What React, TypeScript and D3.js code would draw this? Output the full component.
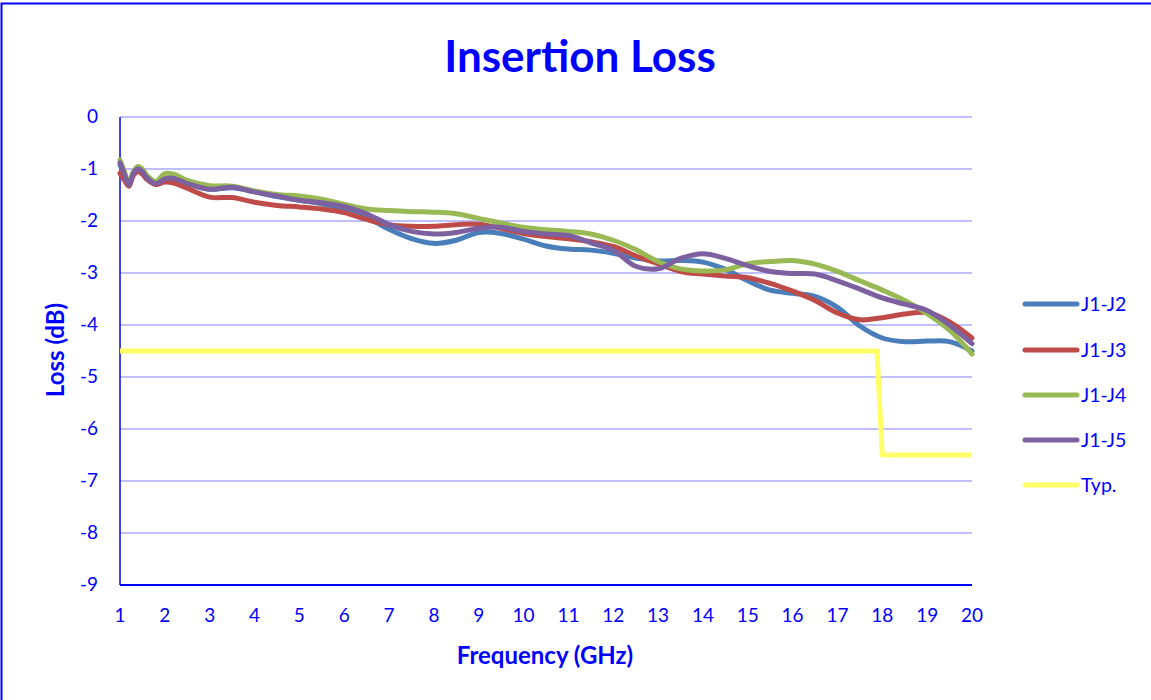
import React from 'react';
import * as d3 from 'd3';

// frequency grid (GHz) shared by all measured traces
const freqs = [
  1, 1.1, 1.2, 1.3, 1.4, 1.5, 1.6, 1.8, 2, 2.2, 2.5, 3, 3.5, 4, 4.5, 5, 5.5, 6, 6.5, 7,
  7.5, 8, 8.5, 9, 9.5, 10, 10.5, 11, 11.5, 12, 12.5, 13, 13.5, 14, 14.5, 15, 15.5, 16,
  16.5, 17, 17.5, 18, 18.5, 19, 19.5, 20,
];

const j1j2 = [
  -0.92, -1.12, -1.31, -1.1, -1.01, -1.06, -1.18, -1.29, -1.2, -1.19, -1.28, -1.39, -1.36,
  -1.44, -1.53, -1.6, -1.67, -1.77, -1.93, -2.16, -2.34, -2.43, -2.37, -2.22, -2.24, -2.35,
  -2.48, -2.54, -2.56, -2.62, -2.71, -2.77, -2.76, -2.79, -2.93, -3.15, -3.33, -3.39, -3.45,
  -3.66, -4.02, -4.25, -4.32, -4.31, -4.32, -4.5,
];

const j1j3 = [
  -1.08, -1.22, -1.33, -1.12, -1.05, -1.1, -1.2, -1.3, -1.25, -1.27, -1.37, -1.54, -1.55,
  -1.64, -1.7, -1.73, -1.77, -1.84, -1.97, -2.07, -2.1, -2.1, -2.07, -2.06, -2.14, -2.24,
  -2.3, -2.34, -2.4, -2.49, -2.67, -2.82, -2.97, -3.02, -3.06, -3.09, -3.2, -3.35, -3.53,
  -3.77, -3.9, -3.86, -3.79, -3.76, -3.94, -4.25,
];

const j1j4 = [
  -0.83, -1.05, -1.28, -1.05, -0.95, -1.0, -1.12, -1.24, -1.09, -1.1, -1.22, -1.32, -1.33,
  -1.42, -1.49, -1.52, -1.58, -1.68, -1.77, -1.8, -1.82, -1.83, -1.86, -1.95, -2.04, -2.12,
  -2.17, -2.2, -2.25, -2.37, -2.55, -2.78, -2.92, -2.96, -2.94, -2.82, -2.78, -2.76, -2.83,
  -2.97, -3.15, -3.33, -3.53, -3.78, -4.1, -4.56,
];

const j1j5 = [
  -0.88, -1.1, -1.3, -1.08, -1.0, -1.05, -1.17, -1.28, -1.19, -1.18, -1.28, -1.39, -1.35,
  -1.44, -1.52, -1.6, -1.65, -1.72, -1.86, -2.07, -2.2, -2.25, -2.22, -2.14, -2.12, -2.2,
  -2.25, -2.28, -2.42, -2.56, -2.87, -2.92, -2.72, -2.63, -2.72, -2.86, -2.97, -3.01, -3.02,
  -3.15, -3.31, -3.48, -3.6, -3.72, -4.0, -4.36,
];

// typical spec limit
const typFreqs = [1, 17.88, 18.0, 20];
const typValues = [-4.5, -4.5, -6.5, -6.5];

const series = [
  { name: 'J1-J2', values: j1j2, color: '#4A7EBB' },
  { name: 'J1-J3', values: j1j3, color: '#BE4B48' },
  { name: 'J1-J4', values: j1j4, color: '#98B954' },
  { name: 'J1-J5', values: j1j5, color: '#7D60A0' },
];

const xTicks = d3.range(1, 21);
const yTicks = d3.range(0, -10, -1);

const W = 1151;
const H = 700;
const font = 'Lato, "Open Sans", sans-serif';
const blue = '#0000FF';

const App: React.FC = () => {
  // plot area
  const left = 120;
  const right = 972;
  const top = 117;
  const bottom = 585;

  const x = d3.scaleLinear().domain([1, 20]).range([left, right]);
  const y = d3.scaleLinear().domain([-9, 0]).range([bottom, top]);

  const line = d3
    .line<[number, number]>()
    .x((d) => x(d[0]))
    .y((d) => y(d[1]))
    .curve(d3.curveCatmullRom.alpha(0.5));

  const typLine = d3
    .line<[number, number]>()
    .x((d) => x(d[0]))
    .y((d) => y(d[1]));

  const legendItems = [
    ...series.map((s) => ({ name: s.name, color: s.color })),
    { name: 'Typ.', color: '#FFFF66' },
  ];
  const legendY = [304, 350, 395, 440, 485];

  return (
    <svg
      width={W}
      height={H}
      style={{ position: 'absolute', left: 0, top: 0, display: 'block', background: '#fff' }}
    >
      <rect x={1.5} y={3.5} width={W + 10} height={H + 10} fill="#fff" stroke={blue} strokeWidth={2} />

      <text
        x={580}
        y={72}
        textAnchor="middle"
        fontFamily={font}
        fontWeight="bold"
        fontSize={44}
        fill={blue}
      >
        Insertion Loss
      </text>

      {/* gridlines */}
      {yTicks.slice(0, -1).map((t) => (
        <line key={t} x1={left} x2={right} y1={y(t)} y2={y(t)} stroke="#BFBFFF" strokeWidth={2} />
      ))}

      {/* axes */}
      <line x1={left} x2={left} y1={top} y2={bottom} stroke={blue} strokeWidth={1.5} />
      <line x1={left} x2={right} y1={bottom} y2={bottom} stroke={blue} strokeWidth={2} />

      {yTicks.map((t) => (
        <text
          key={t}
          x={98}
          y={y(t) + 6}
          textAnchor="end"
          fontFamily={font}
          fontSize={19}
          fill={blue}
        >
          {t}
        </text>
      ))}

      {xTicks.map((t) => (
        <text
          key={t}
          x={x(t)}
          y={622}
          textAnchor="middle"
          fontFamily={font}
          fontSize={19}
          fill={blue}
        >
          {t}
        </text>
      ))}

      <text
        x={545}
        y={664}
        textAnchor="middle"
        fontFamily={font}
        fontWeight="bold"
        fontSize={24}
        fill={blue}
      >
        Frequency (GHz)
      </text>
      <text
        transform="translate(64,350) rotate(-90)"
        textAnchor="middle"
        fontFamily={font}
        fontWeight="bold"
        fontSize={24}
        fill={blue}
      >
        Loss (dB)
      </text>

      {/* typical limit */}
      <path
        d={typLine(typFreqs.map((f, i) => [f, typValues[i]] as [number, number])) || ''}
        fill="none"
        stroke="#FFFF66"
        strokeWidth={5}
        strokeLinejoin="round"
      />

      {/* measured traces */}
      {series.map((s) => (
        <path
          key={s.name}
          d={line(freqs.map((f, i) => [f, s.values[i]] as [number, number])) || ''}
          fill="none"
          stroke={s.color}
          strokeWidth={5}
          strokeLinejoin="round"
          strokeLinecap="round"
        />
      ))}

      {/* legend */}
      {legendItems.map((item, i) => (
        <g key={item.name} transform={`translate(0,${legendY[i]})`}>
          <line x1={1025} x2={1077} y1={0} y2={0} stroke={item.color} strokeWidth={5} strokeLinecap="round" />
          <text x={1081} y={7} fontFamily={font} fontSize={19.5} fill={blue}>
            {item.name}
          </text>
        </g>
      ))}
    </svg>
  );
};

export default App;
